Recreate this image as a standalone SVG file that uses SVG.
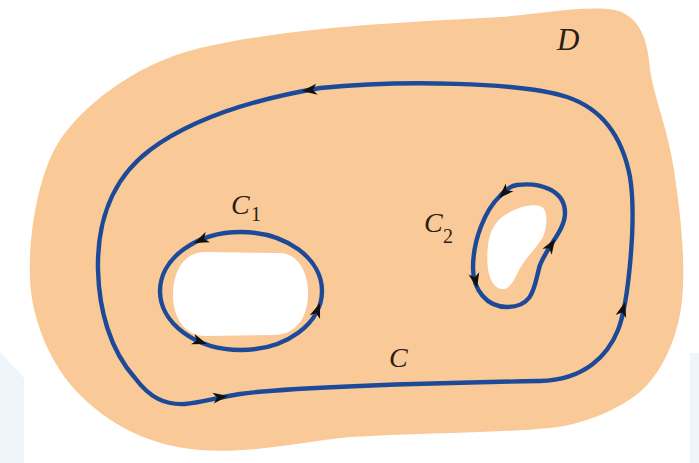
<svg xmlns="http://www.w3.org/2000/svg" xmlns:xlink="http://www.w3.org/1999/xlink" width="699" height="463" viewBox="0 0 699 463">
  <style>
    .curve { fill: none; stroke: #1d4a98; stroke-width: 4.4; stroke-linejoin: round; }
    .hole { fill: #ffffff; }
    .lbl { font-family: "Liberation Serif", "Times New Roman", serif; font-style: italic; fill: #2b1d14; }
    .sub { font-family: "Liberation Serif", "Times New Roman", serif; font-style: normal; fill: #2b1d14; }
    .ah { fill: #111111; }
  </style>
  <defs>
    <path id="ah" d="M0,0 L-15,-5.5 L-11,0 L-15,5.5 Z"/>
  </defs>
  <rect width="699" height="463" fill="#ffffff"/>
  <g id="background">
    <polygon points="0,352 24,378 24,463 0,463" fill="#eef5fb"/>
    <rect x="690" y="353" width="9" height="110" fill="#eef5fb"/>
  </g>
  <g id="region-D">
    <path d="M 200,48 C 300,25 420,22 500,17 C 540,14 585,5 615,10 C 640,16 648,40 650,70 C 655,100 668,130 674,170 C 680,210 686,260 682,300 C 678,340 660,375 640,392 C 615,412 580,425 550,428 C 500,433 420,433 350,437 C 300,442 250,454 200,450 C 150,446 110,425 80,395 C 50,365 32,320 30,280 C 28,230 40,170 60,140 C 80,110 130,65 200,48 Z" fill="#fac998"/>
    <text class="lbl" x="557" y="50" font-size="31">D</text>
  </g>
  <g id="hole-1">
    <path class="hole" d="M 205,252 L 280,253 C 300,254 308,275 308,293 C 308,315 298,334 275,335 L 205,336 C 185,336 173,318 173,295 C 173,270 185,252 205,252 Z"/>
  </g>
  <g id="hole-2">
    <path class="hole" d="M 540,206 C 548,208 548,225 543,237 C 535,250 525,258 518,272 C 512,285 507,292 498,288 C 488,282 486,265 488,245 C 490,228 498,218 510,212 C 520,207 532,204 540,206 Z"/>
  </g>
  <g id="connectors">
    <g id="C">
      <path class="curve" d="M 567,97 C 520,82 400,80 320,88 C 250,100 190,120 150,150 C 110,180 97,225 98,270 C 99,310 110,350 135,378 C 150,398 165,405 185,404 C 200,403 215,398 240,394 C 280,388 420,383 540,381 C 585,380 608,355 618,330 C 628,305 637,220 630,177 C 622,135 600,108 567,97 Z"/>
      <use class="ah" xlink:href="#ah" transform="translate(302,91) rotate(173)"/>
      <use class="ah" xlink:href="#ah" transform="translate(625,302) rotate(-74)"/>
      <use class="ah" xlink:href="#ah" transform="translate(228,396) rotate(-8)"/>
      <text class="lbl" x="389" y="367" font-size="28">C</text>
    </g>
    <g id="C1">
      <ellipse class="curve" cx="241" cy="291" rx="81" ry="59"/>
      <use class="ah" xlink:href="#ah" transform="translate(194,243) rotate(157)"/>
      <use class="ah" xlink:href="#ah" transform="translate(207,344) rotate(19)"/>
      <use class="ah" xlink:href="#ah" transform="translate(320,303) rotate(-70)"/>
      <text class="lbl" x="231" y="214" font-size="28">C</text>
      <text class="sub" x="251" y="221" font-size="20">1</text>
    </g>
    <g id="C2">
      <path class="curve" d="M 517,185 C 540,182 565,190 565,213 C 565,230 548,245 540,265 C 534,285 535,307 507,307 C 487,307 473,290 473,268 C 473,240 485,210 500,196 C 505,190 510,186 517,185 Z"/>
      <use class="ah" xlink:href="#ah" transform="translate(499,198) rotate(135)"/>
      <use class="ah" xlink:href="#ah" transform="translate(477,288) rotate(78)"/>
      <use class="ah" xlink:href="#ah" transform="translate(555,239) rotate(-58)"/>
      <text class="lbl" x="424" y="232" font-size="28">C</text>
      <text class="sub" x="443" y="243" font-size="20">2</text>
    </g>
  </g>
</svg>
